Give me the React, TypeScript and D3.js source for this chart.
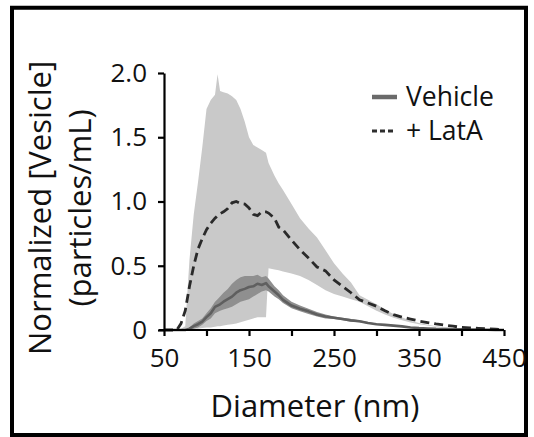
import React, { useEffect, useRef } from "react";
import * as d3 from "d3";

// diameter grid (nm)
const diameters = [
  50, 60, 65, 70, 75, 80, 85, 90, 95, 100, 105, 110, 113, 116, 120, 125, 130,
  135, 140, 145, 150, 155, 160, 165, 170, 173, 180, 185, 190, 200, 210, 220,
  230, 240, 250, 260, 270, 280, 290, 300, 310, 320, 330, 340, 350, 360, 370,
  380, 390, 400, 410, 420, 430, 440, 450,
];

// + LatA: mean and SD band
const latMean = [
  0, 0, 0, 0.05, 0.15, 0.34, 0.5, 0.63, 0.71, 0.78, 0.83, 0.87, 0.89, 0.905,
  0.92, 0.945, 0.99, 1.0, 0.985, 0.98, 0.95, 0.9, 0.89, 0.92, 0.92, 0.91, 0.87,
  0.8, 0.78, 0.7, 0.625, 0.56, 0.49, 0.46, 0.39, 0.34, 0.29, 0.235, 0.21, 0.185,
  0.15, 0.12, 0.1, 0.085, 0.07, 0.058, 0.047, 0.038, 0.03, 0.02, 0.016, 0.013,
  0.01, 0.006, 0.003,
];
const latUpper = [
  0, 0, 0, 0.01, 0.03, 0.55, 0.9, 1.15, 1.42, 1.72, 1.79, 1.83, 1.99, 1.86,
  1.85, 1.84, 1.82, 1.79, 1.72, 1.62, 1.5, 1.44, 1.42, 1.4, 1.38, 1.3, 1.2,
  1.14, 1.09, 0.98, 0.87, 0.79, 0.72, 0.62, 0.52, 0.44, 0.37, 0.27, 0.235, 0.2,
  0.16, 0.125, 0.1, 0.072, 0.055, 0.04, 0.03, 0.022, 0.015, 0.012, 0.01, 0.008,
  0.006, 0.004, 0.002,
];
const latLower = [
  0, 0, 0, 0, 0, 0, 0.01, 0.01, 0.015, 0.02, 0.02, 0.025, 0.03, 0.03, 0.035,
  0.04, 0.045, 0.05, 0.06, 0.07, 0.08, 0.09, 0.1, 0.1, 0.1, 0.48, 0.47, 0.465,
  0.455, 0.44, 0.42, 0.39, 0.35, 0.31, 0.28, 0.26, 0.24, 0.22, 0.185, 0.15,
  0.12, 0.095, 0.075, 0.058, 0.045, 0.035, 0.025, 0.018, 0.012, 0.01, 0.007,
  0.005, 0.003, 0.002, 0,
];

// Vehicle: mean and SD band
const vehMean = [
  0, 0, 0, 0, 0, 0.01, 0.03, 0.045, 0.065, 0.1, 0.13, 0.18, 0.19, 0.2, 0.22,
  0.24, 0.26, 0.29, 0.31, 0.32, 0.335, 0.34, 0.36, 0.35, 0.365, 0.34, 0.3, 0.27,
  0.235, 0.19, 0.165, 0.145, 0.12, 0.105, 0.095, 0.085, 0.075, 0.068, 0.055,
  0.045, 0.04, 0.034, 0.028, 0.02, 0.015, 0.012, 0.009, 0.008, 0.006, 0.005,
  0.004, 0.003, 0.002, 0.001, 0,
];
const vehUpper = [
  0, 0, 0, 0, 0, 0.02, 0.05, 0.07, 0.09, 0.13, 0.17, 0.22, 0.24, 0.26, 0.29,
  0.32, 0.36, 0.39, 0.41, 0.42, 0.42, 0.42, 0.43, 0.41, 0.42, 0.4, 0.34, 0.31,
  0.27, 0.22, 0.19, 0.165, 0.14, 0.12, 0.105, 0.095, 0.085, 0.075, 0.062, 0.05,
  0.045, 0.038, 0.032, 0.024, 0.018, 0.014, 0.011, 0.01, 0.008, 0.006, 0.005,
  0.004, 0.003, 0.002, 0.001,
];
const vehLower = [
  0, 0, 0, 0, 0, 0, 0.01, 0.02, 0.04, 0.07, 0.09, 0.13, 0.14, 0.15, 0.16, 0.17,
  0.18, 0.2, 0.22, 0.23, 0.24, 0.26, 0.28, 0.3, 0.31, 0.3, 0.26, 0.24, 0.21,
  0.17, 0.145, 0.125, 0.105, 0.09, 0.085, 0.075, 0.065, 0.06, 0.048, 0.04,
  0.035, 0.03, 0.024, 0.016, 0.012, 0.009, 0.007, 0.006, 0.004, 0.003, 0.002,
  0.001, 0.001, 0, 0,
];

const xTicks = [50, 100, 150, 200, 250, 300, 350, 400, 450];
const xLabels = [50, 150, 250, 350, 450];
const yTicks = [0, 0.5, 1.0, 1.5, 2.0];

const legendItems = ["Vehicle", "+ LatA"];

const FONT = "'Open Sans', 'Noto Sans', sans-serif";

const App = () => {
  const ref = useRef<SVGSVGElement>(null);

  useEffect(() => {
    const svg = d3.select(ref.current);
    svg.selectAll("*").remove();

    // outer frame
    svg
      .append("rect")
      .attr("x", 12)
      .attr("y", 7.75)
      .attr("width", 514)
      .attr("height", 427.25)
      .attr("fill", "white")
      .attr("stroke", "black")
      .attr("stroke-width", 4);

    const x = d3.scaleLinear().domain([50, 450]).range([164, 504]);
    const y = d3.scaleLinear().domain([0, 2]).range([330, 73]);

    const idx = d3.range(diameters.length);

    const band = (lo: number[], hi: number[]) =>
      d3
        .area<number>()
        .x((i) => x(diameters[i]))
        .y0((i) => y(lo[i]))
        .y1((i) => y(hi[i]));

    const line = (vals: number[]) =>
      d3
        .line<number>()
        .x((i) => x(diameters[i]))
        .y((i) => y(vals[i]));

    svg
      .append("path")
      .attr("d", band(latLower, latUpper)(idx))
      .attr("fill", "#c9c9c9");

    svg
      .append("path")
      .attr("d", band(vehLower, vehUpper)(idx))
      .attr("fill", "#8f8f8f");

    svg
      .append("path")
      .attr("d", line(vehMean)(idx))
      .attr("fill", "none")
      .attr("stroke", "#5f5f5f")
      .attr("stroke-width", 2.6)
      .attr("stroke-linejoin", "round");

    svg
      .append("path")
      .attr("d", line(latMean)(idx))
      .attr("fill", "none")
      .attr("stroke", "#2a2a2a")
      .attr("stroke-width", 2.8)
      .attr("stroke-dasharray", "9,5");

    // axes
    const xAxis = d3
      .axisBottom(x)
      .tickValues(xTicks)
      .tickSize(6)
      .tickPadding(13)
      .tickSizeOuter(0)
      .tickFormat((d) => (xLabels.includes(+d) ? String(d) : ""));
    const gx = svg
      .append("g")
      .attr("transform", `translate(0, ${y(0)})`)
      .call(xAxis);
    gx.select(".domain")
      .attr("d", `M${x(50) - 5},0H${x(450)}`)
      .attr("stroke-width", 2.2);
    gx.selectAll("line").attr("stroke-width", 2.2);
    gx.selectAll("text")
      .attr("font-family", FONT)
      .attr("font-size", 26)
      .attr("fill", "#111");

    const yAxis = d3
      .axisLeft(y)
      .tickValues(yTicks)
      .tickSize(6)
      .tickPadding(11)
      .tickSizeOuter(0)
      .tickFormat((d) => (+d === 0 ? "0" : d3.format(".1f")(+d)));
    const gy = svg
      .append("g")
      .attr("transform", `translate(${x(50)}, 0)`)
      .call(yAxis);
    gy.select(".domain").attr("stroke-width", 2.2);
    gy.selectAll("line").attr("stroke-width", 2.2);
    gy.selectAll("text")
      .attr("font-family", FONT)
      .attr("font-size", 26)
      .attr("fill", "#111");

    // axis titles
    svg
      .append("text")
      .attr("x", 315)
      .attr("y", 417)
      .attr("text-anchor", "middle")
      .attr("font-family", FONT)
      .attr("font-size", 31)
      .attr("fill", "#111")
      .text("Diameter (nm)");

    const yTitle = svg
      .append("text")
      .attr("transform", "translate(51, 208) rotate(-90)")
      .attr("text-anchor", "middle")
      .attr("font-family", FONT)
      .attr("font-size", 31)
      .attr("fill", "#111");
    yTitle.append("tspan").attr("x", 0).attr("y", 0).text("Normalized [Vesicle]");
    yTitle.append("tspan").attr("x", 0).attr("y", 40).text("(particles/mL)");

    // legend
    const lg = svg.append("g");
    lg.append("line")
      .attr("x1", 372)
      .attr("x2", 397)
      .attr("y1", 97)
      .attr("y2", 97)
      .attr("stroke", "#6a6a6a")
      .attr("stroke-width", 4.5);
    lg.append("line")
      .attr("x1", 372)
      .attr("x2", 394)
      .attr("y1", 131)
      .attr("y2", 131)
      .attr("stroke", "#2e2e2e")
      .attr("stroke-width", 3)
      .attr("stroke-dasharray", "5,3");
    lg.selectAll("text.lab")
      .data(legendItems)
      .enter()
      .append("text")
      .attr("class", "lab")
      .attr("x", 406)
      .attr("y", (d, i) => 106 + i * 34)
      .attr("font-family", FONT)
      .attr("font-size", 26.5)
      .attr("fill", "#111")
      .text((d) => d);
  }, []);

  return (
    <svg
      ref={ref}
      width={534}
      height={437}
      style={{ position: "absolute", left: 0, top: 0, background: "white" }}
    />
  );
};

export default App;
